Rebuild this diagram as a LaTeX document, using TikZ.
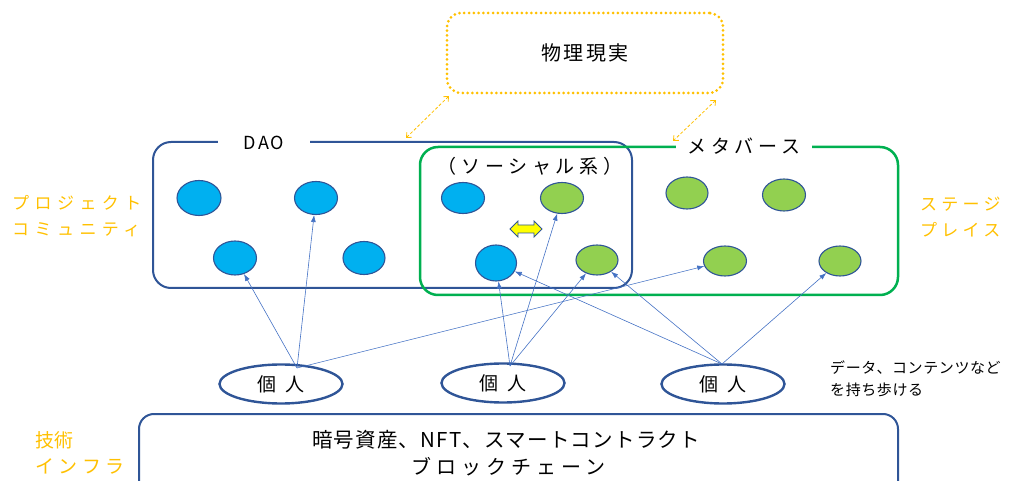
\documentclass[tikz,border=0pt]{standalone}
\usepackage{fontspec}
\setmainfont{Noto Sans CJK JP}
\newfontfamily\jpwide[LetterSpace=25]{Noto Sans CJK JP}
\newfontfamily\jpwider[LetterSpace=32]{Noto Sans CJK JP}
\newfontfamily\jpmid[LetterSpace=12]{Noto Sans CJK JP}
\newfontfamily\jpsmall[LetterSpace=4]{Noto Sans CJK JP}
\newfontfamily\jpbase[LetterSpace=6]{Noto Sans CJK JP}
\usetikzlibrary{arrows.meta,shapes.geometric}
\definecolor{dblue}{HTML}{2F5597}
\definecolor{cblue}{HTML}{00B0F0}
\definecolor{cgreen}{HTML}{92D050}
\definecolor{gline}{HTML}{00B050}
\definecolor{corange}{HTML}{FFC000}
\definecolor{lblue}{HTML}{4472C4}
\definecolor{cyellow}{HTML}{FFFF00}
\begin{document}
\begin{tikzpicture}[x=1pt,y=-1pt,
  blueell/.style={ellipse,draw=dblue,fill=cblue,line width=1.1pt,minimum width=43pt,minimum height=33pt,inner sep=0pt},
  greenell/.style={ellipse,draw=dblue,fill=cgreen,line width=1.1pt,minimum width=43pt,minimum height=31pt,inner sep=0pt},
  person/.style={ellipse,draw=dblue,line width=2.4pt,minimum width=123pt,minimum height=39pt,inner sep=0pt,font=\fontsize{19}{20}\selectfont},
  link/.style={draw=lblue,line width=0.6pt,-{Latex[length=7pt,width=5pt]}},
  realarrow/.style={draw=corange,line width=0.8pt,dash pattern=on 3pt off 2pt,{Straight Barb[length=4pt,width=7pt]}-{Straight Barb[length=4pt,width=7pt]}},
  sidelbl/.style={text=corange,anchor=west,inner sep=0pt,font=\jpwider\fontsize{17}{20}\selectfont},
  titlelbl/.style={fill=white,inner sep=0pt,minimum height=18pt},
  plain/.style={inner sep=0pt}]
\useasboundingbox (0,0) rectangle (1013,481);
\clip (0,0) rectangle (1013,481);

% physical reality box
\node[draw=corange,line width=3pt,dash pattern=on 0pt off 4.8pt,line cap=round,rounded corners=14pt,
  minimum width=276pt,minimum height=80pt,inner sep=0pt,font=\jpmid\fontsize{20}{22}\selectfont] (real) at (585,53) {物理現実};

% DAO and metaverse boxes
\node[draw=dblue,line width=2pt,rounded corners=18pt,minimum width=479pt,minimum height=146pt,inner sep=0pt] (dao) at (392.5,215) {};
\node[draw=gline,line width=2.5pt,rounded corners=18pt,minimum width=478pt,minimum height=148pt,inner sep=0pt] (meta) at (659,221) {};
\draw[dblue,line width=2pt] (632,200) -- (632,233);
\node[titlelbl,minimum width=92pt,font=\jpmid\fontsize{18}{20}\selectfont] (daolbl) at (264,143) {DAO};
\node[titlelbl,minimum width=136pt,font=\jpwide\fontsize{19}{22}\selectfont] (metalbl) at (744,146) {メタバース};
\node[plain,font=\jpwide\fontsize{19}{22}\selectfont] (social) at (530,166) {（ソーシャル系）};

% orange connectors
\coordinate (o1) at (449,96);
\coordinate (o2) at (406,138);
\coordinate (o3) at (716,100);
\coordinate (o4) at (673,141);
\draw[realarrow] (o1) -- (o2);
\draw[realarrow] (o3) -- (o4);

% ellipses
\node[blueell,minimum width=44pt,minimum height=35pt] (b1) at (199,198) {};
\node[blueell] (b2) at (316,198) {};
\node[blueell,minimum height=34pt] (b3) at (235,258) {};
\node[blueell,minimum width=42pt] (b4) at (364,258) {};
\node[blueell,minimum height=31pt] (b5) at (463,198) {};
\node[blueell,minimum width=41pt,minimum height=36pt] (b6) at (496,263) {};
\node[greenell] (g1) at (562,198) {};
\node[greenell,minimum width=42pt,minimum height=30pt] (g2) at (597,260) {};
\node[greenell,minimum width=42pt,minimum height=32pt] (g3) at (687,193) {};
\node[greenell,minimum width=43pt,minimum height=32pt] (g4) at (784,195) {};
\node[greenell,minimum width=43pt,minimum height=30pt] (g5) at (725,261) {};
\node[greenell,minimum width=42pt,minimum height=30pt] (g6) at (840,261) {};

% yellow double arrow
\draw[dblue,fill=cyellow,line width=0.8pt,line join=miter]
  (510,229) -- (518,221) -- (518,225) -- (534,225) -- (534,221) -- (542,229)
  -- (534,237) -- (534,233) -- (518,233) -- (518,237) -- cycle;

% persons
\node[person] (p1) at (281,384) {個\hspace{9pt}人};
\node[person] (p2) at (503,383) {個\hspace{9pt}人};
\node[person] (p3) at (723,384) {個\hspace{9pt}人};
\coordinate (s1) at (297,368);
\coordinate (s2) at (510,366);
\coordinate (s3) at (722,364);

\draw[link] (s1) -- (b3);
\draw[link] (s1) -- (b2);
\draw[link] (s1) -- (g5);
\draw[link] (s2) -- (b6);
\draw[link] (s2) -- (g1);
\draw[link] (s2) -- (g2);
\draw[link] (s3) -- (b6);
\draw[link] (s3) -- (g2);
\draw[link] (s3) -- (g6);

% infrastructure box
\node[draw=dblue,line width=2pt,rounded corners=15pt,minimum width=759pt,minimum height=90pt,inner sep=0pt,anchor=north west] (infra) at (138,413) {};
\node[plain,font=\jpbase\fontsize{20.5}{22}\selectfont] (t1) at (506,440) {暗号資産、NFT、スマートコントラクト};
\node[plain,font=\jpwide\fontsize{20}{22}\selectfont] (t2) at (508,467) {ブロックチェーン};

% side labels
\node[sidelbl] (sl1) at (12,203) {プロジェクト};
\node[sidelbl] (sl2) at (12,230) {コミュニティ};
\node[sidelbl,font=\jpwide\fontsize{17}{20}\selectfont] (sr1) at (920,204) {ステージ};
\node[sidelbl,font=\jpwide\fontsize{17}{20}\selectfont] (sr2) at (920,230) {プレイス};
\node[sidelbl,font=\jpsmall\fontsize{19}{21}\selectfont] (si1) at (35,440) {技術};
\node[sidelbl,font=\jpwide\fontsize{19}{21}\selectfont] (si2) at (35,466) {インフラ};

% note
\node[plain,anchor=west,font=\jpsmall\fontsize{15}{17}\selectfont] (n1) at (830,368) {データ、コンテンツなど};
\node[plain,anchor=west,font=\jpsmall\fontsize{15}{17}\selectfont] (n2) at (830,390) {を持ち歩ける};
\end{tikzpicture}
\end{document}
